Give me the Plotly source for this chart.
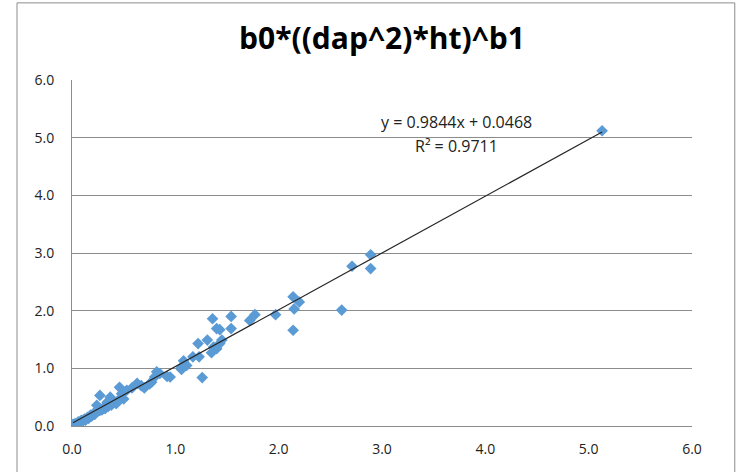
import plotly.graph_objects as go

x_vals = [0.01, 0.02, 0.03, 0.04, 0.05, 0.06, 0.08, 0.09, 0.10, 0.12, 0.13, 0.15, 0.16,
          0.18, 0.19, 0.21, 0.22, 0.24, 0.25, 0.27, 0.27, 0.29, 0.30, 0.32, 0.34, 0.35,
          0.37, 0.38, 0.40, 0.42, 0.43, 0.45, 0.46, 0.48, 0.50, 0.53, 0.58, 0.63, 0.67,
          0.70, 0.75, 0.77, 0.80, 0.82, 0.85, 0.92, 0.95, 1.06, 1.06, 1.08, 1.11, 1.17,
          1.22, 1.23, 1.26, 1.31, 1.35, 1.36, 1.37, 1.40, 1.40, 1.43, 1.43, 1.45, 1.54,
          1.54, 1.72, 1.77, 1.97, 2.14, 2.14, 2.15, 2.20, 2.61, 2.71, 2.89, 2.89, 5.13]
y_vals = [0.03, 0.01, 0.04, 0.00, 0.03, 0.07, 0.05, 0.10, 0.08, 0.12, 0.10, 0.15, 0.13,
          0.19, 0.17, 0.22, 0.20, 0.36, 0.26, 0.27, 0.53, 0.28, 0.31, 0.30, 0.41, 0.34,
          0.50, 0.36, 0.42, 0.40, 0.39, 0.45, 0.67, 0.56, 0.47, 0.62, 0.66, 0.74, 0.70,
          0.66, 0.73, 0.76, 0.85, 0.94, 0.91, 0.86, 0.85, 1.02, 0.98, 1.13, 1.05, 1.20,
          1.43, 1.20, 0.84, 1.49, 1.27, 1.86, 1.37, 1.69, 1.34, 1.67, 1.43, 1.49, 1.90,
          1.69, 1.83, 1.93, 1.93, 2.24, 1.66, 2.03, 2.15, 2.01, 2.77, 2.97, 2.73, 5.12]

slope = 0.9844
intercept = 0.0468
r2 = 0.9711
title = "b0*((dap^2)*ht)^b1"
tick_vals = [0, 1, 2, 3, 4, 5, 6]

blue = "#5B9BD5"
grid = "#8C8C8C"

fig = go.Figure()
fig.add_trace(go.Scatter(
    x=x_vals, y=y_vals, mode="markers",
    marker=dict(symbol="diamond", size=9, color=blue, line=dict(width=0)),
    showlegend=False, hoverinfo="x+y"))

x_line = [min(x_vals), max(x_vals)]
y_line = [slope * v + intercept for v in x_line]
fig.add_trace(go.Scatter(
    x=x_line, y=y_line, mode="lines",
    line=dict(color="#262626", width=1.2),
    showlegend=False, hoverinfo="skip"))

fig.add_annotation(x=3.72, y=5.27, xref="x", yref="y",
                   text=f"y = {slope}x + {intercept}", showarrow=False,
                   font=dict(family="Open Sans", size=16, color="#222"))
fig.add_annotation(x=3.72, y=4.86, xref="x", yref="y",
                   text=f"R² = {r2}", showarrow=False,
                   font=dict(family="Open Sans", size=16, color="#222"))

# outer chart border
fig.add_shape(type="rect", xref="paper", yref="paper",
              x0=-0.0887, x1=1.069, y0=-0.2, y1=1.2229,
              line=dict(color="#8C8C8C", width=1), fillcolor="rgba(0,0,0,0)", layer="below")

fig.update_layout(
    width=738, height=472,
    margin=dict(l=72, r=46, t=80, b=46),
    paper_bgcolor="white", plot_bgcolor="white",
    title=dict(text=f"<b>{title}</b>", x=0.5, xref="paper", xanchor="center",
               y=0.918, yanchor="middle",
               font=dict(family="Open Sans", size=30, color="#000")),
    font=dict(family="Open Sans", size=14, color="#222"),
)
fig.update_xaxes(range=[0, 6], tickvals=tick_vals, tickformat=".1f",
                 showgrid=False, zeroline=False, showline=True, linecolor=grid,
                 linewidth=1, ticks="", ticklabelstandoff=10, fixedrange=True)
fig.update_yaxes(range=[0, 6], tickvals=tick_vals, tickformat=".1f",
                 showgrid=True, gridcolor=grid, gridwidth=1, zeroline=False,
                 showline=True, linecolor=grid, linewidth=1, ticks="",
                 ticklabelstandoff=14, fixedrange=True)

fig.write_html("out.html")
